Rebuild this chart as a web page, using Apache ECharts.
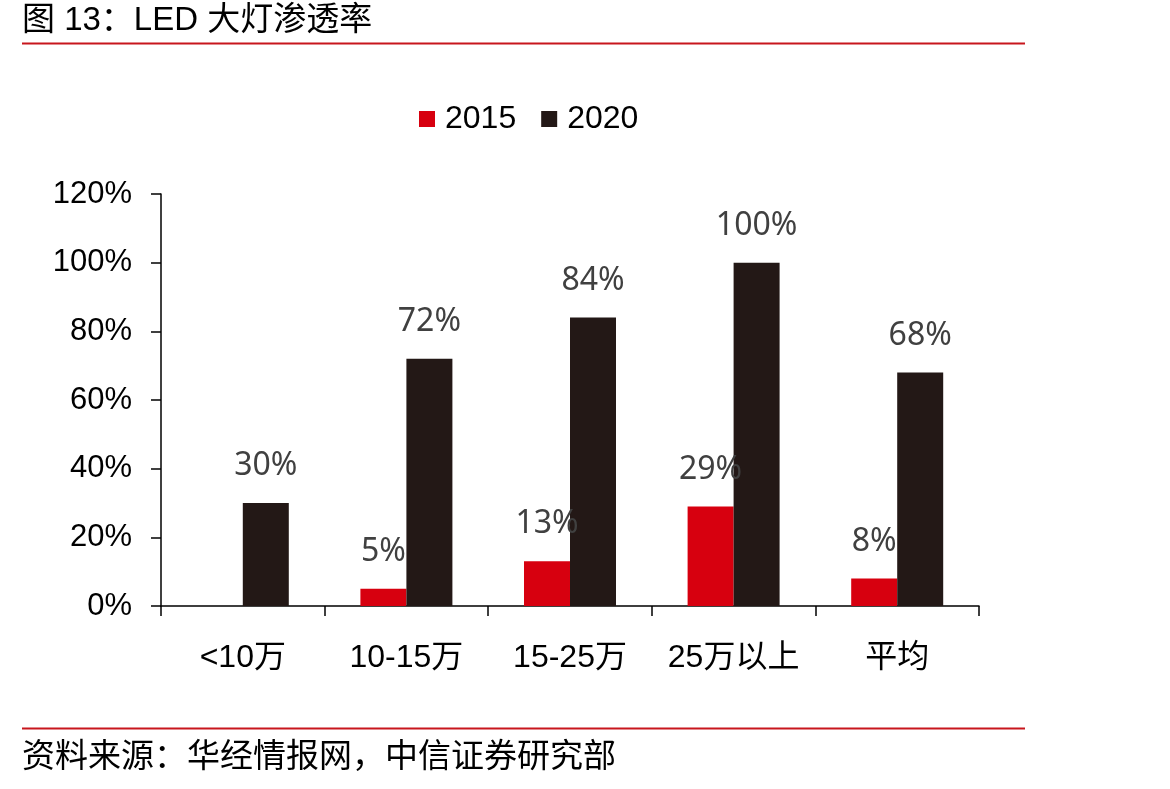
<!DOCTYPE html>
<html>
<head>
<meta charset="utf-8">
<script src="https://cdn.jsdelivr.net/npm/echarts@6/dist/echarts.min.js"></script>
<style>
  html, body { margin: 0; padding: 0; background: #fff; }
  #chart { width: 1170px; height: 789px; }
</style>
</head>
<body>
<div id="chart"></div>
<script>
const categories = ['<10万', '10-15万', '15-25万', '25万以上', '平均'];
const values2015 = ['-', 5, 13, 29, 8];
const values2020 = [30, 72, 84, 100, 68];
const seriesNames = ['2015', '2020'];

const latin = '"Liberation Sans", Arial, "Noto Sans CJK SC", sans-serif';
const cjk = '"Liberation Sans", "Noto Sans CJK SC", sans-serif';

const chart = echarts.init(document.getElementById('chart'));

const barLabel = {
  show: true,
  position: 'top',
  distance: 21,
  formatter: '{c}%',
  color: '#404040',
  fontSize: 32,
  fontFamily: '"Noto Sans", "Open Sans", sans-serif',
};

chart.setOption({
  animation: false,
  color: ['#d7000f', '#231816'],
  graphic: [
    {
      type: 'text',
      left: 22,
      top: 4,
      style: {
        text: '图 13：LED 大灯渗透率',
        font: '33px ' + cjk,
        fill: '#000',
      },
    },
    {
      type: 'line',
      shape: { x1: 22, y1: 43.5, x2: 1025, y2: 43.5 },
      style: { stroke: '#c8161d', lineWidth: 2 },
    },
    {
      type: 'line',
      shape: { x1: 22, y1: 728.5, x2: 1025, y2: 728.5 },
      style: { stroke: '#c8161d', lineWidth: 2 },
    },
    {
      type: 'text',
      left: 22,
      top: 741,
      style: {
        text: '资料来源：华经情报网，中信证券研究部',
        font: '33px ' + cjk,
        fill: '#000',
      },
    },
  ],
  legend: {
    data: seriesNames,
    top: 98,
    left: 414,
    itemWidth: 16,
    itemHeight: 16,
    itemGap: 25,
    icon: 'rect',
    textStyle: { fontSize: 32, color: '#000', fontFamily: latin, padding: [0, 0, 0, 5] },
  },
  grid: {
    left: 161,
    right: 191,
    top: 194,
    bottom: 183,
    containLabel: false,
  },
  xAxis: {
    type: 'category',
    data: categories,
    axisLine: { lineStyle: { color: '#000', width: 1.5 } },
    axisTick: { show: true, interval: 0, length: 10, lineStyle: { color: '#000', width: 1.5 } },
    axisLabel: { color: '#000', fontSize: 32, fontFamily: cjk, margin: 36, interval: 0 },
  },
  yAxis: {
    type: 'value',
    min: 0,
    max: 120,
    interval: 20,
    axisLine: { show: true, lineStyle: { color: '#000', width: 1.5 } },
    axisTick: { show: true, length: 10, lineStyle: { color: '#000', width: 1.5 } },
    splitLine: { show: false },
    axisLabel: { color: '#000', fontSize: 31, fontFamily: latin, formatter: '{value}%', margin: 29 },
  },
  series: [
    {
      name: seriesNames[0],
      type: 'bar',
      data: values2015,
      barWidth: 46,
      barGap: '0%',
      label: barLabel,
    },
    {
      name: seriesNames[1],
      type: 'bar',
      data: values2020,
      barWidth: 46,
      label: barLabel,
    },
  ],
});
</script>
</body>
</html>
